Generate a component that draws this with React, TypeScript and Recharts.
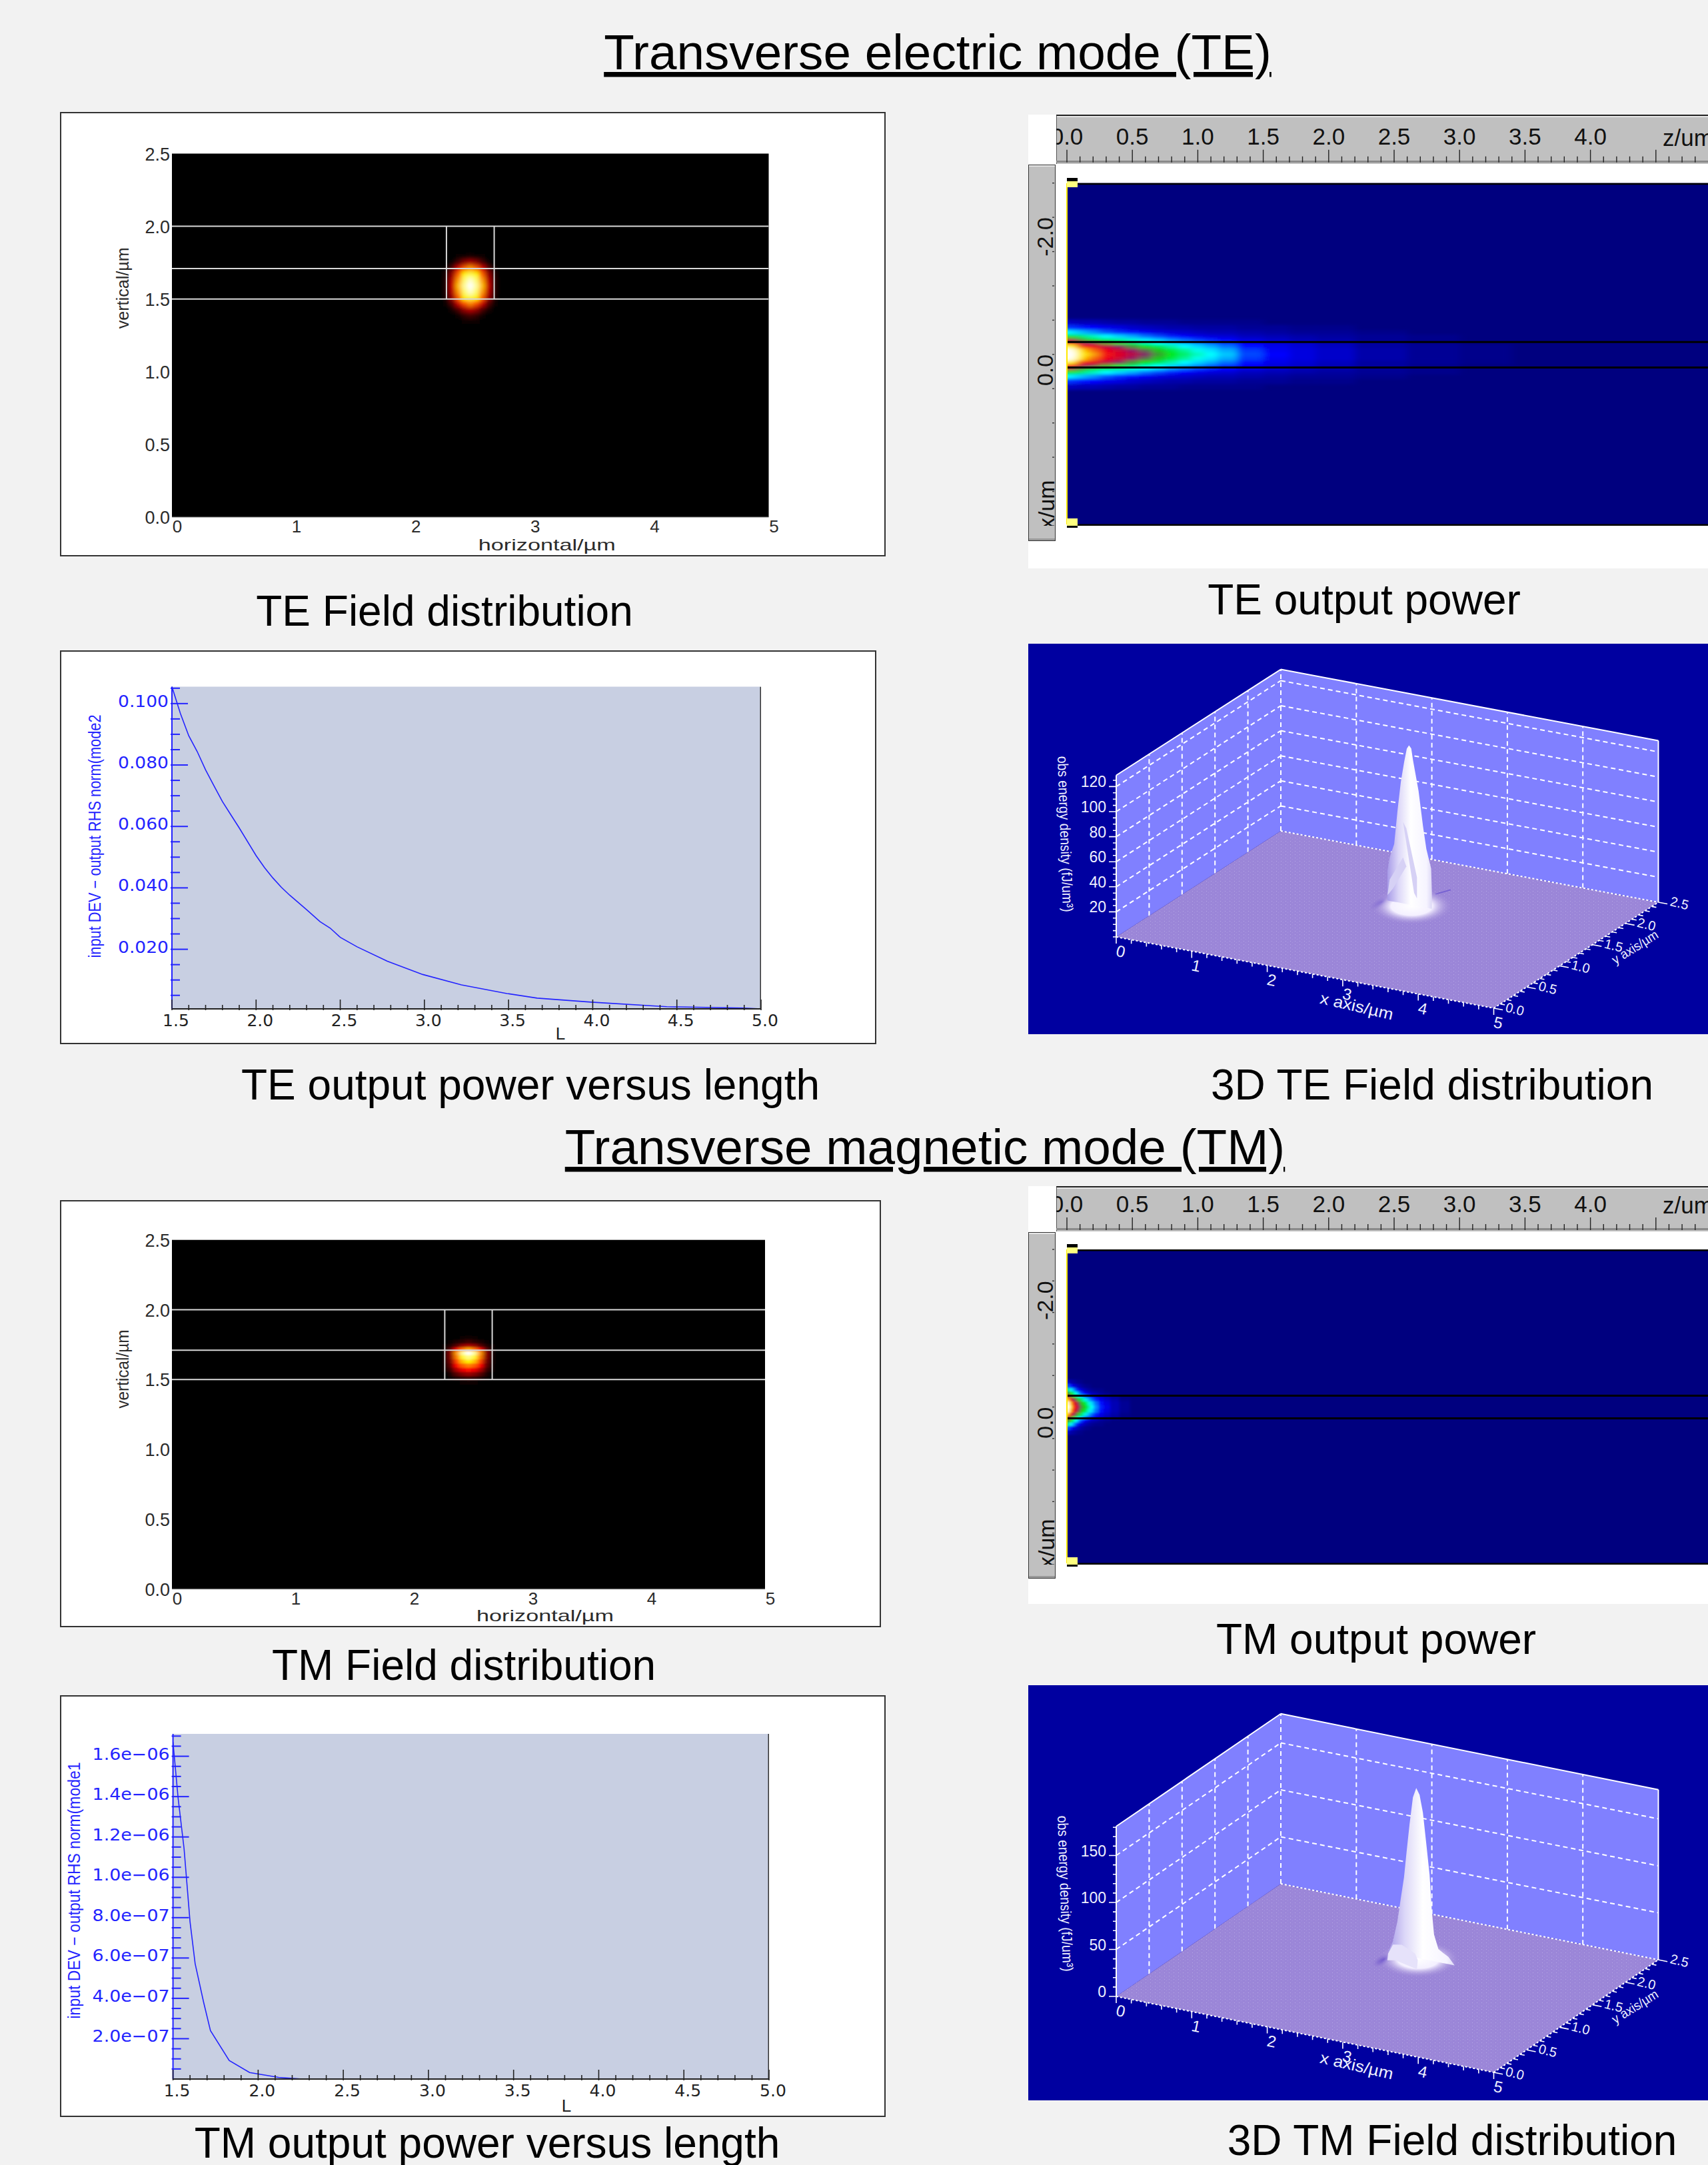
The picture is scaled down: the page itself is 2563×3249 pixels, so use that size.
import { Area, CartesianGrid, ComposedChart, Line, Scatter, XAxis, YAxis } from 'recharts';

const SANS = '"Liberation Sans", Arial, sans-serif';
const PAGE_BG = '#f2f2f2';
const BLUE = '#2424ff';

// ---- field distribution panels (x, y in um, values 0..1 of the hot colour map)
const fieldXs = [2.1, 2.15, 2.2, 2.25, 2.3, 2.35, 2.4, 2.45, 2.5, 2.55, 2.6, 2.65, 2.7, 2.75, 2.8, 2.85, 2.9];
const teFieldYs = [1.83, 1.79, 1.75, 1.71, 1.67, 1.63, 1.59, 1.55, 1.51, 1.47, 1.43, 1.39, 1.35, 1.31];
const teFieldRows = [
  [0, 0, 0, 0, 0, 0, 0, 0, 0, 0, 0, 0, 0, 0, 0, 0, 0],
  [0, 0, 0, 0, 0, 0, 0.01, 0.02, 0.03, 0.02, 0.01, 0, 0, 0, 0, 0, 0],
  [0, 0, 0, 0, 0, 0.02, 0.08, 0.16, 0.2, 0.16, 0.08, 0.02, 0, 0, 0, 0, 0],
  [0, 0, 0, 0, 0.02, 0.1, 0.25, 0.42, 0.5, 0.42, 0.25, 0.1, 0.02, 0, 0, 0, 0],
  [0, 0, 0, 0, 0.04, 0.18, 0.42, 0.62, 0.72, 0.62, 0.42, 0.18, 0.04, 0, 0, 0, 0],
  [0, 0, 0, 0, 0.05, 0.22, 0.5, 0.78, 0.92, 0.78, 0.5, 0.22, 0.05, 0, 0, 0, 0],
  [0, 0, 0, 0, 0.05, 0.24, 0.55, 0.85, 1, 0.85, 0.55, 0.24, 0.05, 0, 0, 0, 0],
  [0, 0, 0, 0, 0.05, 0.22, 0.5, 0.78, 0.92, 0.78, 0.5, 0.22, 0.05, 0, 0, 0, 0],
  [0, 0, 0, 0, 0.04, 0.18, 0.42, 0.62, 0.72, 0.62, 0.42, 0.18, 0.04, 0, 0, 0, 0],
  [0, 0, 0, 0, 0.02, 0.1, 0.24, 0.4, 0.48, 0.4, 0.24, 0.1, 0.02, 0, 0, 0, 0],
  [0, 0, 0, 0, 0, 0.03, 0.09, 0.18, 0.22, 0.18, 0.09, 0.03, 0, 0, 0, 0, 0],
  [0, 0, 0, 0, 0, 0, 0.02, 0.06, 0.08, 0.06, 0.02, 0, 0, 0, 0, 0, 0],
  [0, 0, 0, 0, 0, 0, 0, 0.01, 0.02, 0.01, 0, 0, 0, 0, 0, 0, 0],
  [0, 0, 0, 0, 0, 0, 0, 0, 0, 0, 0, 0, 0, 0, 0, 0, 0],
];
const tmFieldYs = [1.83, 1.8, 1.77, 1.74, 1.72, 1.69, 1.66, 1.63, 1.6, 1.57, 1.54, 1.51, 1.48, 1.45];
const tmFieldRows = [
  [0, 0, 0, 0, 0, 0, 0, 0, 0, 0, 0, 0, 0, 0, 0, 0, 0],
  [0, 0, 0, 0, 0, 0, 0, 0.01, 0.02, 0.01, 0, 0, 0, 0, 0, 0, 0],
  [0, 0, 0, 0, 0, 0.01, 0.03, 0.05, 0.07, 0.05, 0.03, 0.01, 0, 0, 0, 0, 0],
  [0, 0, 0, 0, 0.01, 0.04, 0.1, 0.17, 0.2, 0.17, 0.1, 0.04, 0.01, 0, 0, 0, 0],
  [0, 0, 0, 0, 0.01, 0.1, 0.28, 0.44, 0.52, 0.44, 0.28, 0.1, 0.01, 0, 0, 0, 0],
  [0, 0, 0, 0, 0.02, 0.17, 0.5, 0.85, 1, 0.85, 0.5, 0.17, 0.02, 0, 0, 0, 0],
  [0, 0, 0, 0, 0.02, 0.16, 0.46, 0.7, 0.82, 0.7, 0.46, 0.16, 0.02, 0, 0, 0, 0],
  [0, 0, 0, 0, 0.02, 0.14, 0.38, 0.55, 0.62, 0.55, 0.38, 0.14, 0.02, 0, 0, 0, 0],
  [0, 0, 0, 0, 0.01, 0.11, 0.3, 0.42, 0.47, 0.42, 0.3, 0.11, 0.01, 0, 0, 0, 0],
  [0, 0, 0, 0, 0.01, 0.07, 0.2, 0.28, 0.32, 0.28, 0.2, 0.07, 0.01, 0, 0, 0, 0],
  [0, 0, 0, 0, 0, 0.03, 0.1, 0.15, 0.18, 0.15, 0.1, 0.03, 0, 0, 0, 0, 0],
  [0, 0, 0, 0, 0, 0.01, 0.03, 0.05, 0.06, 0.05, 0.03, 0.01, 0, 0, 0, 0, 0],
  [0, 0, 0, 0, 0, 0, 0, 0.01, 0.02, 0.01, 0, 0, 0, 0, 0, 0, 0],
  [0, 0, 0, 0, 0, 0, 0, 0, 0, 0, 0, 0, 0, 0, 0, 0, 0],
];
const fieldGuideYs = [2.0, 1.71, 1.5];
const fieldGuideXs = [2.3, 2.7];
const fieldXTicks = [0, 1, 2, 3, 4, 5];
const fieldYTicks = [0, 0.5, 1, 1.5, 2, 2.5];

// ---- output power versus length
const teLengths = [1.5, 1.55, 1.6, 1.65, 1.7, 1.75, 1.8, 1.85, 1.9, 2.0, 2.05, 2.1, 2.15, 2.2, 2.3, 2.38, 2.44, 2.5, 2.6, 2.78, 2.99, 3.22, 3.49, 3.67, 3.99, 4.44, 4.9, 5.0];
const tePower = [0.1055, 0.0968, 0.0895, 0.0844, 0.0784, 0.0732, 0.0681, 0.0638, 0.0595, 0.0505, 0.0466, 0.0432, 0.0402, 0.0376, 0.0329, 0.029, 0.0269, 0.0239, 0.0208, 0.0161, 0.0118, 0.0084, 0.0056, 0.0041, 0.0028, 0.0013, 0.00086, 0.0006];
const tmLengths = [1.5, 1.53, 1.565, 1.6, 1.63, 1.68, 1.72, 1.83, 1.95, 2.12, 2.26, 3.0, 4.0, 5.0];
const tmPower = [1.67e-6, 1.393e-6, 1.142e-6, 7.8e-7, 5.72e-7, 3.8e-7, 2.4e-7, 9.2e-8, 3.2e-8, 8e-9, 0, 0, 0, 0];
const lengthTickLabels = ['1.5', '2.0', '2.5', '3.0', '3.5', '4.0', '4.5', '5.0'];
const teYLabels = ['0.020', '0.040', '0.060', '0.080', '0.100'];
const tmYLabels = ['2.0e−07', '4.0e−07', '6.0e−07', '8.0e−07', '1.0e−06', '1.2e−06', '1.4e−06', '1.6e−06'];

// ---- top view of the propagating power (z across, x down)
const teBeamZs = [-0.1, 0, 0.05, 0.1, 0.15, 0.2, 0.3, 0.4, 0.5, 0.6, 0.7, 0.8, 0.9, 1, 1.1, 1.2, 1.4, 1.6, 1.8, 2, 2.4, 2.8, 3.2];
const teBeamOffsets = [0, 0.06, 0.12, 0.17, 0.21, 0.26, 0.32, 0.39, 0.47];
const teBeamRows = [
  [1, 1, 1, 0.88, 0.84, 0.78, 0.68, 0.64, 0.6, 0.54, 0.47, 0.41, 0.37, 0.33, 0.3, 0.26, 0.17, 0.12, 0.09, 0.07, 0.04, 0.02, 0.01],
  [1, 1, 0.98, 0.85, 0.8, 0.74, 0.66, 0.62, 0.56, 0.5, 0.44, 0.39, 0.35, 0.31, 0.28, 0.24, 0.16, 0.11, 0.09, 0.07, 0.04, 0.02, 0.01],
  [0.9, 0.9, 0.85, 0.72, 0.68, 0.65, 0.6, 0.54, 0.47, 0.42, 0.38, 0.34, 0.3, 0.27, 0.24, 0.2, 0.13, 0.1, 0.08, 0.06, 0.03, 0.02, 0.01],
  [0.7, 0.7, 0.66, 0.6, 0.56, 0.52, 0.46, 0.41, 0.37, 0.33, 0.3, 0.27, 0.24, 0.21, 0.18, 0.15, 0.11, 0.08, 0.07, 0.05, 0.03, 0.01, 0],
  [0.6, 0.6, 0.55, 0.48, 0.44, 0.42, 0.38, 0.35, 0.32, 0.29, 0.26, 0.22, 0.19, 0.16, 0.14, 0.12, 0.09, 0.07, 0.05, 0.04, 0.02, 0.01, 0],
  [0.42, 0.42, 0.4, 0.38, 0.35, 0.33, 0.3, 0.27, 0.24, 0.2, 0.17, 0.14, 0.12, 0.1, 0.09, 0.08, 0.06, 0.05, 0.04, 0.03, 0.02, 0.01, 0],
  [0.3, 0.3, 0.28, 0.26, 0.24, 0.22, 0.18, 0.15, 0.13, 0.11, 0.09, 0.08, 0.07, 0.06, 0.05, 0.05, 0.04, 0.03, 0.02, 0.02, 0.01, 0, 0],
  [0.16, 0.16, 0.15, 0.14, 0.13, 0.12, 0.1, 0.09, 0.07, 0.06, 0.05, 0.04, 0.04, 0.03, 0.03, 0.03, 0.02, 0.02, 0.01, 0.01, 0, 0, 0],
  [0.06, 0.06, 0.06, 0.05, 0.05, 0.05, 0.04, 0.03, 0.03, 0.02, 0.02, 0.02, 0.01, 0.01, 0.01, 0.01, 0.01, 0, 0, 0, 0, 0, 0],
];
const tmBeamZs = [-0.04, 0.01, 0.03, 0.05, 0.07, 0.09, 0.11, 0.13, 0.15, 0.17, 0.19, 0.22, 0.26, 0.3, 0.36, 0.44];
const tmBeamOffsets = [0, 0.06, 0.12, 0.17, 0.22, 0.27, 0.33, 0.4];
const tmBeamRows = [
  [1, 1, 0.9, 0.72, 0.66, 0.56, 0.48, 0.44, 0.4, 0.34, 0.3, 0.22, 0.14, 0.1, 0.05, 0.02],
  [1, 0.98, 0.82, 0.68, 0.62, 0.52, 0.45, 0.41, 0.37, 0.31, 0.27, 0.2, 0.13, 0.09, 0.05, 0.02],
  [0.85, 0.82, 0.68, 0.58, 0.5, 0.43, 0.38, 0.33, 0.28, 0.24, 0.19, 0.14, 0.1, 0.07, 0.04, 0.01],
  [0.66, 0.6, 0.5, 0.42, 0.37, 0.32, 0.27, 0.22, 0.18, 0.15, 0.11, 0.09, 0.06, 0.04, 0.02, 0],
  [0.55, 0.48, 0.42, 0.36, 0.3, 0.22, 0.16, 0.12, 0.09, 0.07, 0.05, 0.04, 0.02, 0.01, 0, 0],
  [0.42, 0.36, 0.3, 0.24, 0.16, 0.11, 0.08, 0.06, 0.04, 0.03, 0.02, 0.01, 0.01, 0, 0, 0],
  [0.22, 0.18, 0.13, 0.09, 0.07, 0.05, 0.03, 0.02, 0.01, 0.01, 0, 0, 0, 0, 0, 0],
  [0.08, 0.06, 0.04, 0.03, 0.02, 0.01, 0.01, 0, 0, 0, 0, 0, 0, 0, 0, 0],
];
const rulerZLabels = ['0.0', '0.5', '1.0', '1.5', '2.0', '2.5', '3.0', '3.5', '4.0'];
const rulerXLabels = [-2, 0];

// ---- 3D surface profiles along the mode centre (x in um, height in fJ/um3)
const teSpikeX = [2.196, 2.197, 2.226, 2.286, 2.33, 2.374, 2.418, 2.453, 2.482, 2.512, 2.535, 2.609, 2.668, 2.712, 2.776, 2.785, 2.786];
const teSpikeZ = [4.2, 23.7, 34.6, 46, 73, 96.6, 113, 124, 127, 124.8, 116, 92, 64.5, 47, 32, 13.6, 0];
const teFacetAX = [2.403, 2.447, 2.588, 2.588, 2.55];
const teFacetAZ = [65, 60.3, 22.8, 6, 10];
const teFacetBX = [2.403, 2.447, 2.271, 2.197, 2.226];
const teFacetBZ = [36.6, 30, 10.4, 4.2, 17];
const teRidgeX = [2.83, 3.035];
const teRidgeZ = [12.2, 18];
const tmSpikeX = [2.118, 2.182, 2.241, 2.285, 2.329, 2.365, 2.403, 2.447, 2.491, 2.535, 2.579, 2.624, 2.668, 2.697, 2.727, 2.785, 2.844, 2.918, 3.0];
const tmSpikeZ = [0, 12.4, 34.6, 59, 83, 112, 141, 170, 180.5, 174, 156, 123.5, 91, 53.8, 28.3, 13.8, 11, 7.7, 0];
const tmPlateX = [2.118, 2.182, 2.3, 2.476, 2.512, 2.5, 2.212, 2.109];
const tmPlateZ = [-1.7, 8.9, 10.7, 4.1, -2.4, -12, -7.3, -8.9];
const teZMajor = [20, 40, 60, 80, 100, 120];
const tmZMajor = [0, 50, 100, 150];
const xMajor3d = [0, 1, 2, 3, 4, 5];
const yMajor3d = [0, 0.5, 1, 1.5, 2, 2.5];
const yLabels3d = ['0.0', '0.5', '1.0', '1.5', '2.0', '2.5'];

const range = (from: number, to: number, step: number) => {
  const out: number[] = [];
  const n = Math.round((to - from) / step);
  for (let i = 0; i <= n; i++) out.push(+(from + i * step).toPrecision(10));
  return out;
};

const edges = (vals: number[]) =>
  vals.map((v, i) => {
    const a = i === 0 ? v - (vals[1] - v) / 2 : (vals[i - 1] + v) / 2;
    const b = i === vals.length - 1 ? v + (v - vals[i - 1]) / 2 : (v + vals[i + 1]) / 2;
    return [Math.min(a, b), Math.max(a, b)];
  });

const heatTable = (xs: number[], ys: number[], rows: number[][]) => {
  const xe = edges(xs);
  const ye = edges(ys);
  const out: any[] = [];
  ys.forEach((y, r) => xs.forEach((x, c) => {
    if (rows[r][c] > 0) out.push({ x, y, val: rows[r][c], x0: xe[c][0], x1: xe[c][1], y0: ye[r][0], y1: ye[r][1] });
  }));
  return out;
};

// beam tables are mirrored around the waveguide centre line
const beamTable = (zs: number[], offsets: number[], rows: number[][]) => {
  const ys = [...offsets.slice(1).reverse().map((o) => -o), ...offsets];
  const all = [...rows.slice(1).reverse(), ...rows];
  return heatTable(zs, ys, all);
};

const mix = (stops: [number, number[]][], t: number) => {
  for (let i = 1; i < stops.length; i++) {
    if (t <= stops[i][0]) {
      const [a, ca] = stops[i - 1];
      const [b, cb] = stops[i];
      const f = (t - a) / (b - a);
      return `rgb(${ca.map((c, k) => Math.round(c + (cb[k] - c) * f)).join(',')})`;
    }
  }
  return `rgb(${stops[stops.length - 1][1].join(',')})`;
};
const hotStops: [number, number[]][] = [[0, [0, 0, 0]], [0.3, [255, 0, 0]], [0.62, [255, 245, 0]], [0.9, [255, 255, 190]], [1, [255, 255, 255]]];
const beamStops: [number, number[]][] = [
  [0, [0, 0, 128]], [0.12, [0, 0, 255]], [0.3, [0, 255, 255]], [0.42, [0, 230, 0]], [0.5, [90, 110, 80]],
  [0.55, [140, 20, 110]], [0.66, [240, 0, 20]], [0.85, [255, 240, 0]], [1, [255, 255, 255]],
];

const cellShape = (pxX: number, pxY: number, stops: [number, number[]][]) => (p: any) => {
  const d = p.payload;
  return (
    <rect
      x={p.cx + (d.x0 - d.x) * pxX}
      y={p.cy - (d.y1 - d.y) * pxY}
      width={(d.x1 - d.x0) * pxX + 0.6}
      height={(d.y1 - d.y0) * pxY + 0.6}
      fill={mix(stops, d.val)}
    />
  );
};

const hershey = { fontFamily: SANS, fill: '#2b2b2b' };

const FieldPanel = ({ left, top, width, height, plot, rows, ys, verticalLen, soft }: any) => {
  const plotW = plot.right - plot.left;
  const plotH = plot.bottom - plot.top;
  const XTick = ({ x, y, payload }: any) => (
    <text x={x + 8} y={y + 21} fontSize={26} textAnchor="middle" {...hershey}>{payload.value}</text>
  );
  const YTick = ({ x, y, payload }: any) => (
    <text x={x - 1} y={y + 10} fontSize={27} textAnchor="end" {...hershey}>{payload.value.toFixed(1)}</text>
  );
  return (
    <div style={{ position: 'absolute', left, top, width, height, background: '#fff', boxShadow: 'inset 0 0 0 2px #333' }}>
      <ComposedChart
        width={width}
        height={height}
        margin={{ top: plot.top, right: width - plot.right, bottom: 0, left: 0 }}
      >
        <CartesianGrid horizontal={false} vertical={false} fill="#000" />
        <XAxis type="number" dataKey="x" domain={[0, 5]} ticks={fieldXTicks} height={height - plot.bottom} interval={0} tick={<XTick />} tickLine={false} tickSize={0} axisLine={{ stroke: '#777' }} allowDataOverflow />
        <YAxis type="number" dataKey="y" domain={[0, 2.5]} ticks={fieldYTicks} width={plot.left} interval={0} tick={<YTick />} tickLine={false} tickSize={0} axisLine={false} allowDataOverflow />
        <Scatter
          className={soft}
          data={heatTable(fieldXs, ys, rows)}
          shape={cellShape(plotW / 5, plotH / 2.5, hotStops)}
          isAnimationActive={false}
        />
        {fieldGuideYs.map((g) => (
          <Line key={g} data={[{ x: 0, y: g }, { x: 5, y: g }]} dataKey="y" stroke="#d8d8d8" strokeWidth={2} dot={false} activeDot={false} isAnimationActive={false} zIndex={700} />
        ))}
        {fieldGuideXs.map((g) => (
          <Line key={g} data={[{ x: g, y: 1.5 }, { x: g, y: 2 }]} dataKey="y" stroke="#d8d8d8" strokeWidth={2} dot={false} activeDot={false} isAnimationActive={false} zIndex={700} />
        ))}
        <text x={(plot.left + plot.right) / 2 + 115} y={height - 9} fontSize={24} textAnchor="middle" textLength={206} lengthAdjust="spacingAndGlyphs" {...hershey}>horizontal/µm</text>
        <text transform={`translate(${plot.left - 65},${plot.top + 0.37 * plotH}) rotate(-90)`} fontSize={26} textAnchor="middle" textLength={verticalLen} lengthAdjust="spacingAndGlyphs" {...hershey}>vertical/µm</text>
      </ComposedChart>
    </div>
  );
};

const LengthPanel = ({ left, top, width, height, plot, lengths, power, domain, yStep, yLabels, yFirst, yTitle, titleX, titleY, titleLen, lX, lY }: any) => {
  const data = lengths.map((L: number, i: number) => ({ L, power: power[i] }));
  const xTicks = range(1.5, 5, 0.1);
  const yTicks = range(yStep, domain[1], yStep).filter((v) => v > domain[0]);
  const labelFor = (v: number) => {
    const idx = Math.round((v - yFirst) / (yFirst));
    return Math.abs(v / yFirst - Math.round(v / yFirst)) < 1e-6 && idx >= 0 ? yLabels[idx] : null;
  };
  const XTick = ({ x, y, payload }: any) => {
    const major = Math.abs(payload.value * 2 - Math.round(payload.value * 2)) < 1e-6;
    const idx = Math.round((payload.value - 1.5) * 2);
    return (
      <g>
        <line x1={x} x2={x} y1={y} y2={y - (major ? 16 : 8)} stroke="#222" strokeWidth={1.6} />
        {major && <text x={x + 6} y={y + 24} fontSize={25} textAnchor="middle" fontFamily="DejaVu Sans" fill="#222">{lengthTickLabels[idx]}</text>}
      </g>
    );
  };
  const YTick = ({ x, y, payload }: any) => {
    const label = labelFor(payload.value);
    return (
      <g>
        <line x1={x} x2={x + (label ? 26 : 14)} y1={y} y2={y} stroke={BLUE} strokeWidth={2} />
        {label && <text x={x - 3} y={y + 5} fontSize={25} textAnchor="end" fontFamily="DejaVu Sans" fill={BLUE} textLength={yLabels[0].length > 5 ? 116 : 76} lengthAdjust="spacingAndGlyphs">{label}</text>}
      </g>
    );
  };
  return (
    <div style={{ position: 'absolute', left, top, width, height, background: '#fff', boxShadow: 'inset 0 0 0 2px #333' }}>
      <ComposedChart
        width={width}
        height={height}
        data={data}
        margin={{ top: plot.top, right: width - plot.right, bottom: 0, left: 0 }}
      >
        <CartesianGrid horizontal={false} vertical={false} fill="#c8cfe2" />
        <XAxis type="number" dataKey="L" domain={[1.5, 5]} ticks={xTicks} height={height - plot.bottom} interval={0} tick={<XTick />} tickLine={false} tickSize={0} axisLine={{ stroke: '#222', strokeWidth: 2 }} allowDataOverflow />
        <YAxis type="number" domain={domain} ticks={yTicks} width={plot.left} interval={0} tick={<YTick />} tickLine={false} tickSize={0} axisLine={{ stroke: BLUE, strokeWidth: 2 }} allowDataOverflow />
        <Line type="linear" dataKey="power" stroke={BLUE} strokeWidth={1.6} dot={false} activeDot={false} isAnimationActive={false} />
        <Line data={[{ L: 5, edge: domain[0] }, { L: 5, edge: domain[1] }]} dataKey="edge" stroke="#333" strokeWidth={3} dot={false} activeDot={false} isAnimationActive={false} />
        <text transform={`translate(${titleX},${titleY}) rotate(-90)`} fontSize={25} textAnchor="middle" textLength={titleLen} lengthAdjust="spacingAndGlyphs" fontFamily={SANS} fill={BLUE}>{yTitle}</text>
        <text x={lX} y={lY} fontSize={26} textAnchor="middle" fontFamily={SANS} fill="#222">L</text>
      </ComposedChart>
    </div>
  );
};

const PowerPanel = ({ left, top, width, height, plotTop, plotBottom, rulerBottom, rulerLeftTop, rulerLeftBottom, coreEdges, table, soft }: any) => {
  const plotLeft = 58;
  const pxZ = 196.4;
  const pxX = (plotBottom - plotTop) / 5;
  const zMax = (width - plotLeft) / pxZ;
  const zTicks = range(0, 4.8, 0.1);
  const xTicks = range(-2.5, 2.5, 0.5);
  const rulerGap = plotTop - rulerBottom;
  const ZTick = ({ x, y, payload }: any) => {
    const major = Math.abs(payload.value * 2 - Math.round(payload.value * 2)) < 1e-6;
    const label = rulerZLabels[Math.round(payload.value * 2)];
    const y0 = y - rulerGap;
    return (
      <g>
        <line x1={x} x2={x} y1={y0} y2={y0 - (major ? 19 : 9)} stroke="#222" strokeWidth={1.4} />
        {major && label && <text x={x} y={y0 - 27} fontSize={35} textAnchor="middle" fontFamily={SANS} fill="#111">{label}</text>}
      </g>
    );
  };
  const XTick = ({ x, y, payload }: any) => (
    <g>
      <line x1={x - 17} x2={x - 20} y1={y} y2={y} stroke="#333" strokeWidth={1.4} />
      {rulerXLabels.includes(payload.value) && (
        <text transform={`translate(${x - 19},${y}) rotate(-90)`} fontSize={34} textAnchor="end" fontFamily={SANS} fill="#111">{payload.value.toFixed(1)}</text>
      )}
    </g>
  );
  return (
    <div style={{ position: 'absolute', left, top, width, height, background: '#fff' }}>
      <div style={{ position: 'absolute', left: 41, top: 0, right: 0, height: rulerBottom, background: '#c0c0c0', borderTop: '2px solid #222', borderLeft: '2px solid #555', boxSizing: 'border-box', boxShadow: 'inset 0 2px 0 #e6e6e6' }} />
      <div style={{ position: 'absolute', left: 41, right: 0, top: rulerBottom - 5, height: 3, background: '#8a8a8a' }} />
      <div style={{ position: 'absolute', left: 0, top: rulerLeftTop, width: 41, height: rulerLeftBottom - rulerLeftTop, background: '#c0c0c0', border: '1px solid #333', boxSizing: 'border-box', boxShadow: 'inset 0 2px 0 #e6e6e6, inset 0 -3px 0 #9a9a9a' }} />
      <div style={{ position: 'absolute', left: 0, top: 0 }}>
        <ComposedChart
          width={width}
          height={plotBottom + 2}
          margin={{ top: 0, right: 0, bottom: 0, left: 0 }}
        >
          <CartesianGrid horizontal={false} vertical={false} fill="#00007f" />
          <XAxis type="number" dataKey="z" orientation="top" domain={[0, zMax]} ticks={zTicks} height={plotTop} interval={0} tick={<ZTick />} tickLine={false} tickSize={0} axisLine={false} allowDataOverflow />
          <YAxis type="number" dataKey="x" domain={[-2.5, 2.5]} reversed ticks={xTicks} width={plotLeft} interval={0} tick={<XTick />} tickLine={false} tickSize={0} axisLine={false} allowDataOverflow />
          <Scatter
            className={soft}
            data={table.map((d: any) => ({ ...d, z: d.x, x: d.y }))}
            shape={(p: any) => {
              const d = p.payload;
              return (
                <rect
                  x={p.cx + (d.x0 - d.z) * pxZ}
                  y={p.cy + (d.y0 - d.x) * pxX}
                  width={(d.x1 - d.x0) * pxZ + 0.6}
                  height={(d.y1 - d.y0) * pxX + 0.6}
                  fill={mix(beamStops, d.val)}
                />
              );
            }}
            isAnimationActive={false}
          />
          {[...coreEdges, -2.5, 2.5].map((g: number) => (
            <Line key={g} data={[{ z: 0, x: g }, { z: zMax, x: g }]} dataKey="x" stroke="#000" strokeWidth={Math.abs(g) > 2 ? 5 : 3} dot={false} activeDot={false} isAnimationActive={false} zIndex={700} />
          ))}
          <text transform={`translate(39,${plotBottom + 7}) rotate(-90)`} fontSize={34} fontFamily={SANS} fill="#111">x/um</text>
          <text x={width - 68} y={rulerBottom - 27} fontSize={35} fontFamily={SANS} fill="#111">z/um</text>
        </ComposedChart>
      </div>
      <div style={{ position: 'absolute', left: 0, top: 0, width: 42, height: rulerLeftTop - 1, background: '#fff' }} />
      <div style={{ position: 'absolute', left: 54, top: plotTop, width: 3, height: plotBottom - plotTop, background: '#fff' }} />
      <div style={{ position: 'absolute', left: 57, top: plotTop, width: 2, height: plotBottom - plotTop, background: '#ffe900' }} />
      <div style={{ position: 'absolute', left: 58, top: plotTop - 8, width: 16, height: 14, background: '#ffff80', borderTop: '5px solid #000', boxSizing: 'border-box' }} />
      <div style={{ position: 'absolute', left: 58, top: plotBottom - 9, width: 16, height: 14, background: '#ffff80', borderBottom: '3px solid #000', boxSizing: 'border-box' }} />
    </div>
  );
};

const project = (c: any, x: number, y: number, z: number) => ({
  u: c.ox + x * c.xu + y * c.yu,
  v: c.oy + x * c.xv + y * c.yv - z * c.zv,
});

// convex polygon as a range area: for every corner u, the lowest and highest v on its outline
const polygonRange = (pts: { u: number; v: number }[]) => {
  const us = [...new Set(pts.map((p) => p.u))].sort((a, b) => a - b);
  return us.map((u) => {
    const hits: number[] = [];
    pts.forEach((a, i) => {
      const b = pts[(i + 1) % pts.length];
      const lo = Math.min(a.u, b.u);
      const hi = Math.max(a.u, b.u);
      if (u < lo - 1e-6 || u > hi + 1e-6) return;
      if (a.u === b.u) hits.push(a.v, b.v);
      else hits.push(a.v + ((u - a.u) / (b.u - a.u)) * (b.v - a.v));
    });
    return { u, range: [Math.min(...hits), Math.max(...hits)] };
  });
};

const segments = (pairs: { u: number; v: number }[][]) => {
  const out: any[] = [];
  pairs.forEach((pair) => {
    out.push(pair[0], pair[1], { u: pair[1].u, v: null });
  });
  return out;
};

const wire = (key: string, data: any[], strokeWidth: number, dash?: string, zIndex = 150, stroke = '#fff') => (
  <Line
    key={key}
    data={data}
    dataKey="v"
    stroke={stroke}
    strokeWidth={strokeWidth}
    strokeDasharray={dash}
    dot={false}
    activeDot={false}
    connectNulls={false}
    isAnimationActive={false}
    zIndex={zIndex}
  />
);

const SurfacePanel = ({ top, height, cfg, zMajor, zMinorStep, spikeX, spikeZ, spikeY, gid, facets, ridge, shade }: any) => {
  const P = (x: number, y: number, z: number) => project(cfg, x, y, z);
  const width = 1020;
  const zt = cfg.zTop;
  const spike = spikeX.map((x: number, i: number) => {
    const base = P(x, spikeY, 0);
    const tip = P(x, spikeY, spikeZ[i]);
    return { u: base.u, range: [tip.v, base.v] };
  });
  const centre = P(2.5, spikeY, 0);
  const zLines = zMajor.filter((z: number) => z > 0);
  const xLines = [1, 2, 3, 4];
  const yLines = [0.5, 1, 1.5, 2];
  const grid = segments([
    ...zLines.flatMap((z: number) => [[P(0, 0, z), P(0, 2.5, z)], [P(0, 2.5, z), P(5, 2.5, z)]]),
    ...xLines.map((x) => [P(x, 2.5, 0), P(x, 2.5, zt)]),
    ...yLines.map((y) => [P(0, y, 0), P(0, y, zt)]),
    [P(0, 2.5, 0), P(0, 2.5, zt)],
  ]);
  const outline = segments([
    [P(0, 0, zt), P(0, 2.5, zt)], [P(0, 2.5, zt), P(5, 2.5, zt)], [P(5, 2.5, 0), P(5, 2.5, zt)],
    [P(0, 0, 0), P(0, 0, zt)],
  ]);
  const ticks = segments([
    ...range(0, 5, 0.2).map((x) => {
      const major = xMajor3d.some((m) => Math.abs(m - x) < 1e-6);
      const a = P(x, 0, 0);
      return [a, { u: a.u, v: a.v + (major ? 10 : 6) }];
    }),
    ...range(0, 2.5, 0.1).map((y) => {
      const major = yMajor3d.some((m) => Math.abs(m - y) < 1e-6);
      return [P(5, y, 0), P(major ? 5.12 : 5.06, y, 0)];
    }),
    ...range(0, zt - zMinorStep / 2, zMinorStep).map((z) => {
      const major = zMajor.includes(z);
      const a = P(0, 0, z);
      return [a, { u: a.u - (major ? 11 : 5), v: a.v }];
    }),
  ]);
  const textProps = { fontFamily: SANS, fill: '#eef0ff' };
  const xTickText = xMajor3d.map((x) => { const a = P(x, 0, 0); return { u: a.u + 5, v: a.v + 30, label: String(x) }; });
  const yTickText = yMajor3d.map((y, i) => { const a = P(5, y, 0); return { u: a.u + 30, v: a.v + 8, label: yLabels3d[i] }; });
  const zTickText = zMajor.map((z: number) => { const a = P(0, 0, z); return { u: a.u - 15, v: a.v + 1, label: String(z) }; });
  const textShape = (anchor: string, size: number, angle: number) => (p: any) => (
    <text transform={`translate(${p.cx},${p.cy}) rotate(${angle})`} fontSize={size} textAnchor={anchor} {...textProps}>{p.payload.label}</text>
  );
  const speckle = `speckle-${gid}`;
  return (
    <div style={{ position: 'absolute', left: 1543, top, width, height, background: '#0000a0' }}>
      <ComposedChart width={width} height={height} margin={{ top: 0, right: 0, bottom: 0, left: 0 }}>
        <defs>
          <linearGradient id={`spike-${gid}`} x1="0" y1="0" x2="1" y2="0">
            <stop offset="0%" stopColor="#a89ce8" />
            <stop offset="25%" stopColor="#dcd7f8" />
            <stop offset="52%" stopColor="#ffffff" />
            <stop offset="88%" stopColor="#f6f4ff" />
            <stop offset="100%" stopColor="#ddd8f6" />
          </linearGradient>
          <radialGradient id={`foot-${gid}`}>
            <stop offset="0%" stopColor="#ffffff" />
            <stop offset="50%" stopColor="#f4f0ff" />
            <stop offset="100%" stopColor="#9b85d6" stopOpacity={0} />
          </radialGradient>
          <radialGradient id={`shade-${gid}`}>
            <stop offset="0%" stopColor="#5236c4" />
            <stop offset="100%" stopColor="#9b85d6" stopOpacity={0} />
          </radialGradient>
          <pattern id={speckle} width="7" height="5" patternUnits="userSpaceOnUse">
            <rect width="7" height="5" fill="#9b86d8" />
            <rect x="1" y="1" width="1" height="1" fill="#b5a8e6" />
            <rect x="4" y="3" width="1" height="1" fill="#a796dd" />
          </pattern>
        </defs>
        <XAxis type="number" dataKey="u" domain={[0, width]} hide />
        <YAxis type="number" dataKey="v" domain={[0, height]} reversed hide />
        <Area data={polygonRange([P(0, 0, 0), P(0, 0, zt), P(0, 2.5, zt), P(0, 2.5, 0)])} dataKey="range" stroke="none" fill="#8080ff" fillOpacity={1} dot={false} activeDot={false} isAnimationActive={false} zIndex={50} />
        <Area data={polygonRange([P(0, 2.5, 0), P(0, 2.5, zt), P(5, 2.5, zt), P(5, 2.5, 0)])} dataKey="range" stroke="none" fill="#8080ff" fillOpacity={1} dot={false} activeDot={false} isAnimationActive={false} zIndex={50} />
        {wire('grid', grid, 2, '7 5', 90)}
        {wire('outline', outline, 2, undefined, 90)}
        <Area data={polygonRange([P(0, 0, 0), P(5, 0, 0), P(5, 2.5, 0), P(0, 2.5, 0)])} dataKey="range" stroke="none" fill={`url(#${speckle})`} fillOpacity={1} dot={false} activeDot={false} isAnimationActive={false} zIndex={100} />
        {wire('floor-edge', segments([[P(0, 2.5, 0), P(5, 2.5, 0)], [P(0, 0, 0), P(5, 0, 0)], [P(5, 0, 0), P(5, 2.5, 0)]]), 2, '3 3')}
        {wire('ticks', ticks, 1.6)}
        <Scatter
          data={[{ u: centre.u + shade[0], v: centre.v + shade[1] }]}
          shape={(p: any) => <ellipse cx={p.cx} cy={p.cy} rx={22} ry={9} transform={`rotate(-30 ${p.cx} ${p.cy})`} fill={`url(#shade-${gid})`} />}
          isAnimationActive={false}
          zIndex={160}
        />
        {ridge && wire('ridge', ridge.x.map((x: number, i: number) => P(x, spikeY, ridge.z[i])), 2, undefined, 165, '#7560d2')}
        <Scatter
          data={[{ u: centre.u + 2, v: centre.v + 2 }]}
          shape={(p: any) => <ellipse cx={p.cx} cy={p.cy} rx={62} ry={28} fill={`url(#foot-${gid})`} />}
          isAnimationActive={false}
          zIndex={170}
        />
        <Area data={spike} dataKey="range" stroke="none" fill={`url(#spike-${gid})`} fillOpacity={1} dot={false} activeDot={false} isAnimationActive={false} zIndex={180} />
        {facets.map((f: any, i: number) => (
          <Area key={i} data={polygonRange(f.x.map((x: number, k: number) => P(x, spikeY, f.z[k])))} dataKey="range" stroke="none" fill={f.fill} fillOpacity={1} dot={false} activeDot={false} isAnimationActive={false} zIndex={185} />
        ))}
        <Scatter data={xTickText} shape={textShape('middle', 24, 12)} isAnimationActive={false} />
        <Scatter data={yTickText} shape={textShape('middle', 20, 14)} isAnimationActive={false} />
        <Scatter data={zTickText} shape={textShape('end', 23, 0)} isAnimationActive={false} />
        <text transform={`translate(491,${cfg.oy + 112}) rotate(13)`} fontSize={24} textAnchor="middle" textLength={112} lengthAdjust="spacingAndGlyphs" {...textProps}>x axis/µm</text>
        <text transform={`translate(914,${cfg.oy + 21}) rotate(-32)`} fontSize={20} textAnchor="middle" textLength={78} lengthAdjust="spacingAndGlyphs" {...textProps}>y axis/µm</text>
        <text transform={`translate(48,${cfg.oy - 154}) rotate(88)`} fontSize={22} textAnchor="middle" textLength={234} lengthAdjust="spacingAndGlyphs" {...textProps}>obs energy density (fJ/um³)</text>
      </ComposedChart>
    </div>
  );
};

const teCfg = { ox: 132, oy: 440, xu: 113.3, xv: 21.4, yu: 98.8, yv: -63.6, zv: 1.88, zTop: 129 };
const tmCfg = { ox: 132, oy: 467, xu: 113.3, xv: 22.8, yu: 98.8, yv: -67.6, zv: 1.41, zTop: 181 };
const teFacets = [
  { x: teFacetAX, z: teFacetAZ, fill: '#d6d1f5' },
  { x: teFacetBX, z: teFacetBZ, fill: '#d6d1f5' },
];
const tmFacets = [{ x: tmPlateX, z: tmPlateZ, fill: '#e6e2fa' }];

const pageTexts = [
  { text: 'Transverse electric mode (TE)', x: 1407, y: 104, size: 74.7, line: true },
  { text: 'Transverse magnetic mode (TM)', x: 1388, y: 1747, size: 74.7, line: true },
  { text: 'TE Field distribution', x: 667, y: 939, size: 64, line: false },
  { text: 'TE output power', x: 2047, y: 922, size: 64, line: false },
  { text: 'TE output power versus length', x: 796, y: 1650, size: 64, line: false },
  { text: '3D TE Field distribution', x: 2149, y: 1650, size: 64, line: false },
  { text: 'TM Field distribution', x: 696, y: 2521, size: 64, line: false },
  { text: 'TM output power', x: 2065, y: 2482, size: 64, line: false },
  { text: 'TM output power versus length', x: 731, y: 3238, size: 64, line: false },
  { text: '3D TM Field distribution', x: 2179, y: 3234, size: 64, line: false },
];

export default function App() {
  return (
    <div style={{ position: 'absolute', left: 0, top: 0, width: 2563, height: 3249, overflow: 'hidden', background: PAGE_BG }}>
      <style>{`
        .soft-field.recharts-scatter, .soft-field .recharts-scatter { filter: url(#blur-field); }
        .soft-field-tm.recharts-scatter, .soft-field-tm .recharts-scatter { filter: url(#blur-field-tm); }
        .soft-te.recharts-scatter, .soft-te .recharts-scatter { filter: url(#blur-te); }
        .soft-tm.recharts-scatter, .soft-tm .recharts-scatter { filter: url(#blur-tm); }
      `}</style>
      <svg width={2563} height={3249} style={{ position: 'absolute', left: 0, top: 0 }}>
        <defs>
          <filter id="blur-field" x="-50%" y="-50%" width="200%" height="200%"><feGaussianBlur stdDeviation="3.2 3.2" /></filter>
          <filter id="blur-field-tm" x="-50%" y="-50%" width="200%" height="200%"><feGaussianBlur stdDeviation="3.2 1.8" /></filter>
          <filter id="blur-te" x="-20%" y="-20%" width="140%" height="140%"><feGaussianBlur stdDeviation="6 2.2" /></filter>
          <filter id="blur-tm" x="-20%" y="-20%" width="140%" height="140%"><feGaussianBlur stdDeviation="2 1.5" /></filter>
        </defs>
        {pageTexts.map((t) => (
          <text key={t.text} x={t.x} y={t.y} fontSize={t.size} textAnchor="middle" fontFamily={SANS} fill="#000" textDecoration={t.line ? 'underline' : undefined}>{t.text}</text>
        ))}
      </svg>
      <FieldPanel left={90} top={168} width={1239} height={667} plot={{ left: 168, right: 1063.5, top: 62.5, bottom: 608 }} rows={teFieldRows} ys={teFieldYs} verticalLen={122} soft="soft-field" />
      <FieldPanel left={90} top={1801} width={1232} height={641} plot={{ left: 168, right: 1058, top: 59.7, bottom: 583.7 }} rows={tmFieldRows} ys={tmFieldYs} verticalLen={118} soft="soft-field-tm" />
      <LengthPanel
        left={90} top={976} width={1225} height={591}
        plot={{ left: 168, right: 1052, top: 54.5, bottom: 538 }}
        lengths={teLengths} power={tePower} domain={[0.0006, 0.1055]} yStep={0.005} yFirst={0.02} yLabels={teYLabels}
        yTitle="input DEV − output RHS norm(mode2" titleX={61} titleY={279} titleLen={365} lX={751} lY={584}
      />
      <LengthPanel
        left={90} top={2543.5} width={1239} height={633.5}
        plot={{ left: 169.6, right: 1064, top: 58, bottom: 576 }}
        lengths={tmLengths} power={tmPower} domain={[0, 1.711e-6]} yStep={5e-8} yFirst={2e-7} yLabels={tmYLabels}
        yTitle="input DEV − output RHS norm(mode1" titleX={30} titleY={293} titleLen={385} lX={760} lY={625}
      />
      <PowerPanel left={1543} top={172} width={1020} height={681} plotTop={102.7} plotBottom={615} rulerBottom={73.7} rulerLeftTop={75} rulerLeftBottom={640} coreEdges={[-0.18, 0.19]} table={beamTable(teBeamZs, teBeamOffsets, teBeamRows)} soft="soft-te" />
      <PowerPanel left={1543} top={1780} width={1020} height={627} plotTop={95} plotBottom={566} rulerBottom={68} rulerLeftTop={69} rulerLeftBottom={589} coreEdges={[-0.18, 0.18]} table={beamTable(tmBeamZs, tmBeamOffsets, tmBeamRows)} soft="soft-tm" />
      <SurfacePanel gid="te" top={966} height={586} cfg={teCfg} zMajor={teZMajor} zMinorStep={5} spikeX={teSpikeX} spikeZ={teSpikeZ} spikeY={1.6} facets={teFacets} ridge={{ x: teRidgeX, z: teRidgeZ }} shade={[-43, -4]} />
      <SurfacePanel gid="tm" top={2529} height={623} cfg={tmCfg} zMajor={tmZMajor} zMinorStep={10} spikeX={tmSpikeX} spikeZ={tmSpikeZ} spikeY={1.7} facets={tmFacets} shade={[-49, 2]} />
    </div>
  );
}
